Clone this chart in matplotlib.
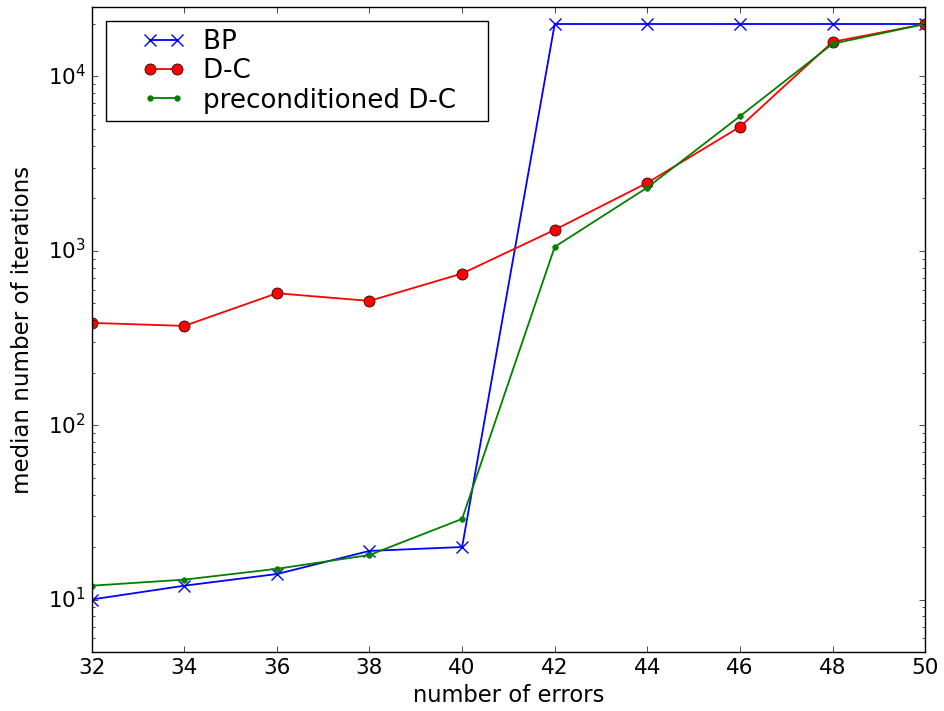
import numpy as np
import matplotlib
matplotlib.use('Agg')
import matplotlib.pyplot as plt
from matplotlib.legend_handler import HandlerLine2D

plt.style.use('classic')

errors = [32, 34, 36, 38, 40, 42, 44, 46, 48, 50]
bp = [10, 12, 14, 19, 20, 20000, 20000, 20000, 20000, 20000]
dc = [386, 371, 571, 516, 741, 1320, 2456, 5140, 15800, 20000]
pre_dc = [12, 13, 15, 18, 29, 1054, 2307, 5915, 15400, 20000]

fig = plt.figure(figsize=(9.45, 7.11), dpi=100, facecolor='white')
ax = fig.add_axes([0.097, 0.083, 0.882, 0.907])

ax.semilogy(errors, bp, color='b', linestyle='-', marker='x', markersize=9,
            markeredgewidth=1.0, linewidth=1.3, label='BP')
ax.semilogy(errors, dc, color='r', linestyle='-', marker='o', markersize=8,
            linewidth=1.3, label='D-C')
ax.semilogy(errors, pre_dc, color='g', linestyle='-', marker='o', markersize=4,
            markeredgecolor='g', linewidth=1.3, label='preconditioned D-C')

ax.set_xlim(32, 50)
ax.set_ylim(5, 25000)
ax.set_xticks(np.arange(32, 51, 2))
ax.tick_params(labelsize=15.5)
ax.set_xlabel('number of errors', fontsize=16.3)
ax.set_ylabel('median number of iterations', fontsize=16.5)
ax.yaxis.set_label_coords(-0.069, 0.5)

# old-style legend: handles pushed in from the left edge, roomy right side
leg = ax.legend(loc='upper left', fontsize=18.8, numpoints=2, handlelength=2.7,
                labelspacing=0.12, borderpad=0.3, handletextpad=0.7,
                borderaxespad=0.55,
                handler_map={plt.Line2D: HandlerLine2D(numpoints=2, xpad=1.1)})
leg.get_frame().set_linewidth(1.0)
for t in leg.get_texts():
    t.set_text(t.get_text() + '   ')

fig.savefig('out.png', dpi=100, facecolor='white')
